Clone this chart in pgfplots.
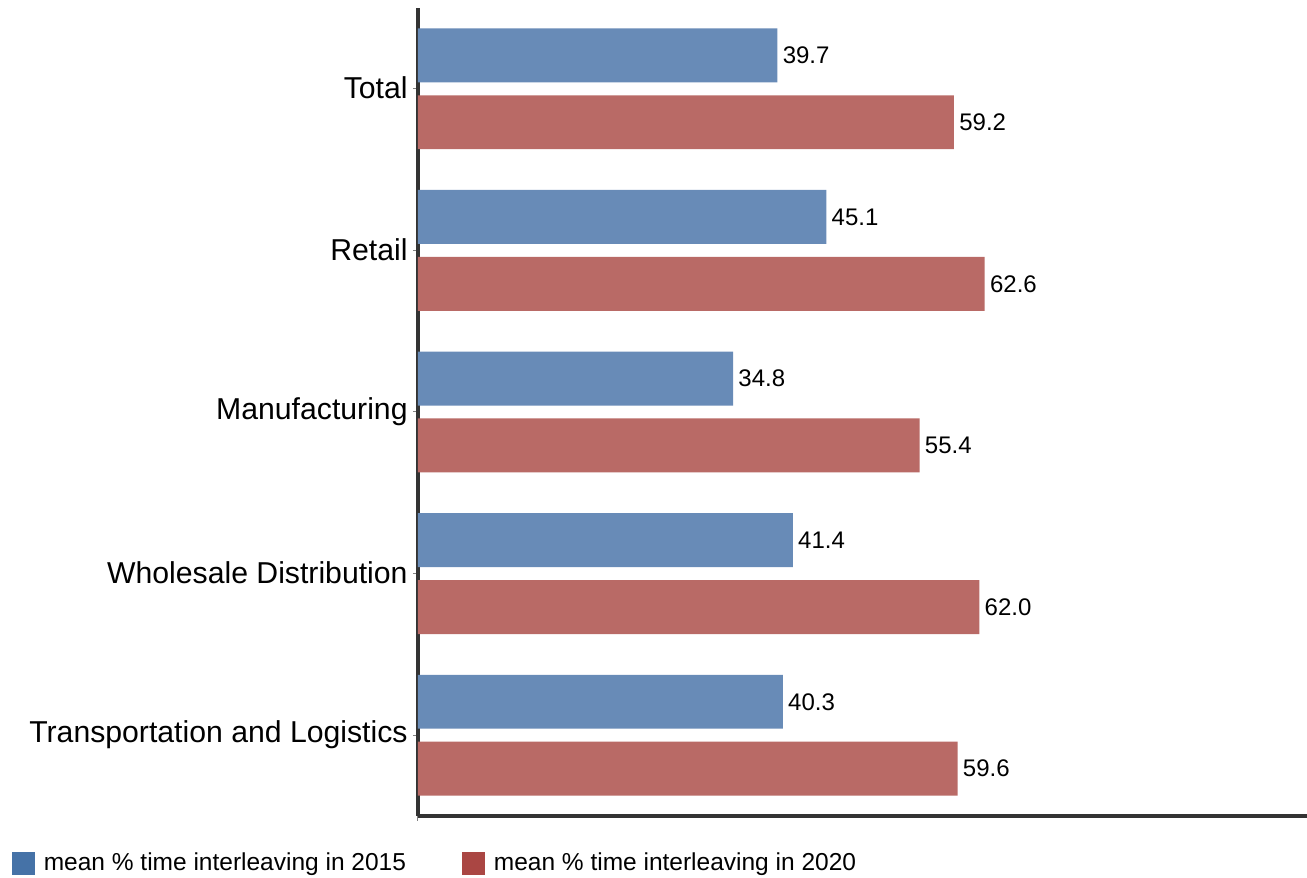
\documentclass[border=0pt]{standalone}
\usepackage{pgfplots}
\pgfplotsset{compat=1.18}
\usepackage{fontspec}
\setmainfont{Liberation Sans}
\definecolor{barblue}{HTML}{688BB7}
\definecolor{barred}{HTML}{B96A66}
\definecolor{legblue}{HTML}{4572A7}
\definecolor{legred}{HTML}{AA4643}
\definecolor{axisgray}{HTML}{333333}
\begin{document}
\begin{tikzpicture}
\begin{axis}[name=ax, scale only axis, width=444.5pt, height=404pt,
  xmin=0, xmax=98.2, ymin=-0.5, ymax=4.5, enlargelimits=false,
  axis lines*=left, axis line style={line width=1.6pt, color=axisgray, -},
  xtick={0}, xticklabels={},
  ytick={0,1,2,3,4},
  yticklabels={Transportation and Logistics, Wholesale Distribution, Manufacturing, Retail, Total},
  tick style={color=gray, line width=0.5pt}, major tick length=2.5pt, tick align=outside,
  yticklabel style={font=\fontsize{15.1pt}{18pt}\selectfont, inner sep=0pt, xshift=-2.5pt, yshift=0.4pt},
  xbar, bar width=0.334, bar shift=0pt,
  point meta=x,
  nodes near coords={\pgfmathprintnumber[fixed,fixed zerofill,precision=1,assume math mode=true]{\pgfplotspointmeta}},
  nodes near coords style={font=\fontsize{12pt}{14pt}\selectfont, anchor=west, inner sep=0pt, xshift=2.5pt, color=black},
  legend style={at={(0,0)}, anchor=west, xshift=-203pt, yshift=-23.5pt, draw=none, fill=none,
    inner sep=0pt, outer sep=0pt, nodes={inner sep=0pt},
    font=\fontsize{12.25pt}{14pt}\selectfont,
    /tikz/every odd column/.append style={column sep=4.5pt},
    /tikz/every even column/.append style={column sep=28pt}},
  legend columns=2, legend cell align=left,
]
\addlegendimage{legend image code/.code={\fill[legblue] (0pt,-5.5pt) rectangle (11pt,5.5pt);}}
\addlegendentry{mean \% time interleaving in 2015}
\addlegendimage{legend image code/.code={\fill[legred] (0pt,-5.5pt) rectangle (11pt,5.5pt);}}
\addlegendentry{mean \% time interleaving in 2020}
\addplot[forget plot, fill=barblue, draw=none] coordinates {(39.7,4.207) (45.1,3.207) (34.8,2.207) (41.4,1.207) (40.3,0.207)};
\addplot[forget plot, fill=barred, draw=none] coordinates {(59.2,3.793) (62.6,2.793) (55.4,1.793) (62.0,0.793) (59.6,-0.207)};
\end{axis}
\pgfresetboundingbox
\path[use as bounding box] ([xshift=-209pt,yshift=-31pt]ax.south west) rectangle ([yshift=4pt]ax.north east);
\end{tikzpicture}
\end{document}
